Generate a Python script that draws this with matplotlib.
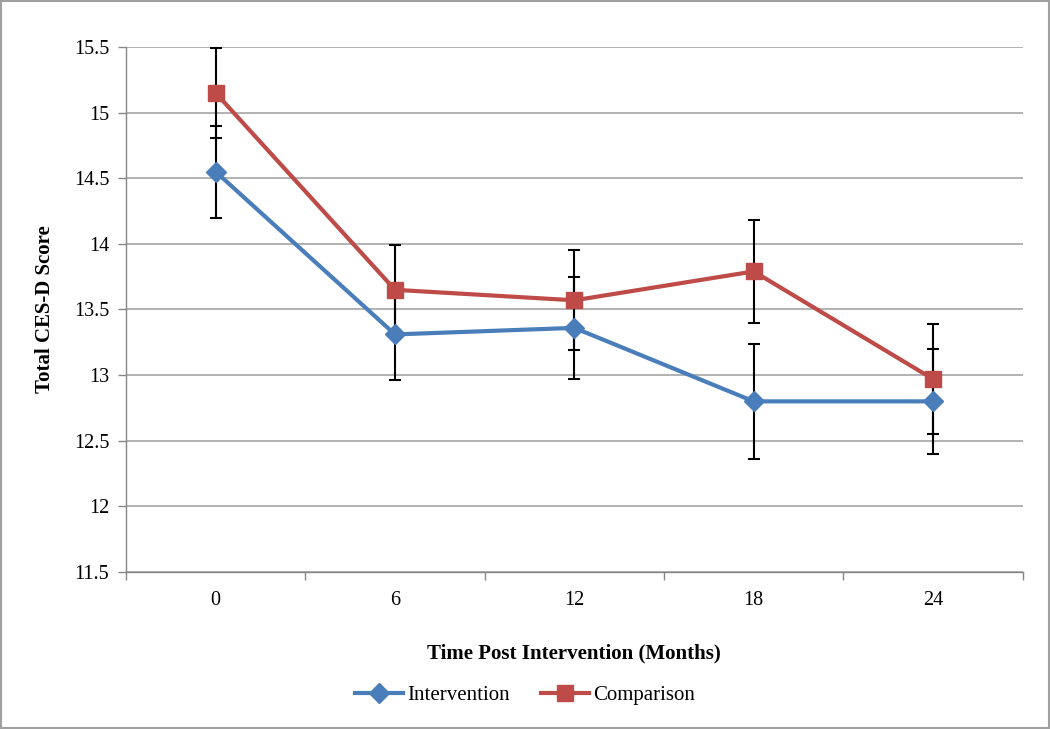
import matplotlib
matplotlib.use("Agg")
import matplotlib.pyplot as plt
from matplotlib.lines import Line2D

months = ["0", "6", "12", "18", "24"]
intervention = [14.55, 13.31, 13.36, 12.80, 12.80]
intervention_err = [0.35, 0.35, 0.39, 0.44, 0.40]
comparison = [15.15, 13.65, 13.57, 13.79, 12.97]
comparison_err = [0.34, 0.34, 0.38, 0.39, 0.42]
y_ticks = [11.5, 12, 12.5, 13, 13.5, 14, 14.5, 15, 15.5]

plt.rcParams['font.family'] = ['Liberation Serif', 'DejaVu Serif']

blue = '#4A7EBB'
red = '#BE4B48'

fig = plt.figure(figsize=(10.5, 7.29), dpi=100)
ax = fig.add_axes([0.12, 0.2154, 0.854, 0.7201])

x = list(range(len(months)))

ax.errorbar(x, intervention, yerr=intervention_err, fmt='none', ecolor='black',
            elinewidth=1.5, capsize=4, capthick=1.5, zorder=2)
ax.errorbar(x, comparison, yerr=comparison_err, fmt='none', ecolor='black',
            elinewidth=1.5, capsize=4, capthick=1.5, zorder=2)
ax.plot(x, intervention, color=blue, lw=3.0, marker='D', markersize=10,
        label='Intervention', zorder=3)
ax.plot(x, comparison, color=red, lw=3.0, marker='s', markersize=11.5,
        label='Comparison', zorder=4)

ax.set_xlim(-0.5, len(months) - 0.5)
ax.set_ylim(11.5, 15.5)
ax.set_yticks(y_ticks)
ax.set_yticklabels([f"{v:g}" for v in y_ticks], fontsize=14.5)
ax.set_xticks(x)
ax.set_xticklabels(months, fontsize=14.5)
ax.tick_params(axis='x', length=0, pad=14)
ax.set_xticks([i - 0.5 for i in range(len(months) + 1)], minor=True)
ax.tick_params(axis='x', which='minor', length=6, color='#868686', width=1)
ax.tick_params(axis='y', length=6, color='#868686', width=1, pad=6)

ax.grid(axis='y', color='#A6A6A6', lw=1.2)
ax.set_axisbelow(True)
for s in ['top', 'right']:
    ax.spines[s].set_visible(False)
for s in ['left', 'bottom']:
    ax.spines[s].set_color('#868686')
    ax.spines[s].set_linewidth(1)

ax.set_ylabel('Total CES-D Score', fontsize=15, fontweight='bold', labelpad=14)
ax.set_xlabel('Time Post Intervention (Months)', fontsize=15, fontweight='bold', labelpad=24)

handles = [Line2D([], [], color=blue, lw=3.0, marker='D', markersize=10),
           Line2D([], [], color=red, lw=3.0, marker='s', markersize=11.5)]
fig.legend(handles, ['Intervention', 'Comparison'], loc='center',
           bbox_to_anchor=(0.5, 1 - 695 / 729), ncol=2, frameon=False,
           fontsize=15, handlelength=2.3, columnspacing=1.5, handletextpad=0.2)

border = plt.Rectangle((0.001, 0.001), 0.998, 0.998, transform=fig.transFigure,
                       fill=False, edgecolor='#A0A0A0', lw=1.5)
fig.patches.append(border)

fig.savefig('out.png', dpi=100)
